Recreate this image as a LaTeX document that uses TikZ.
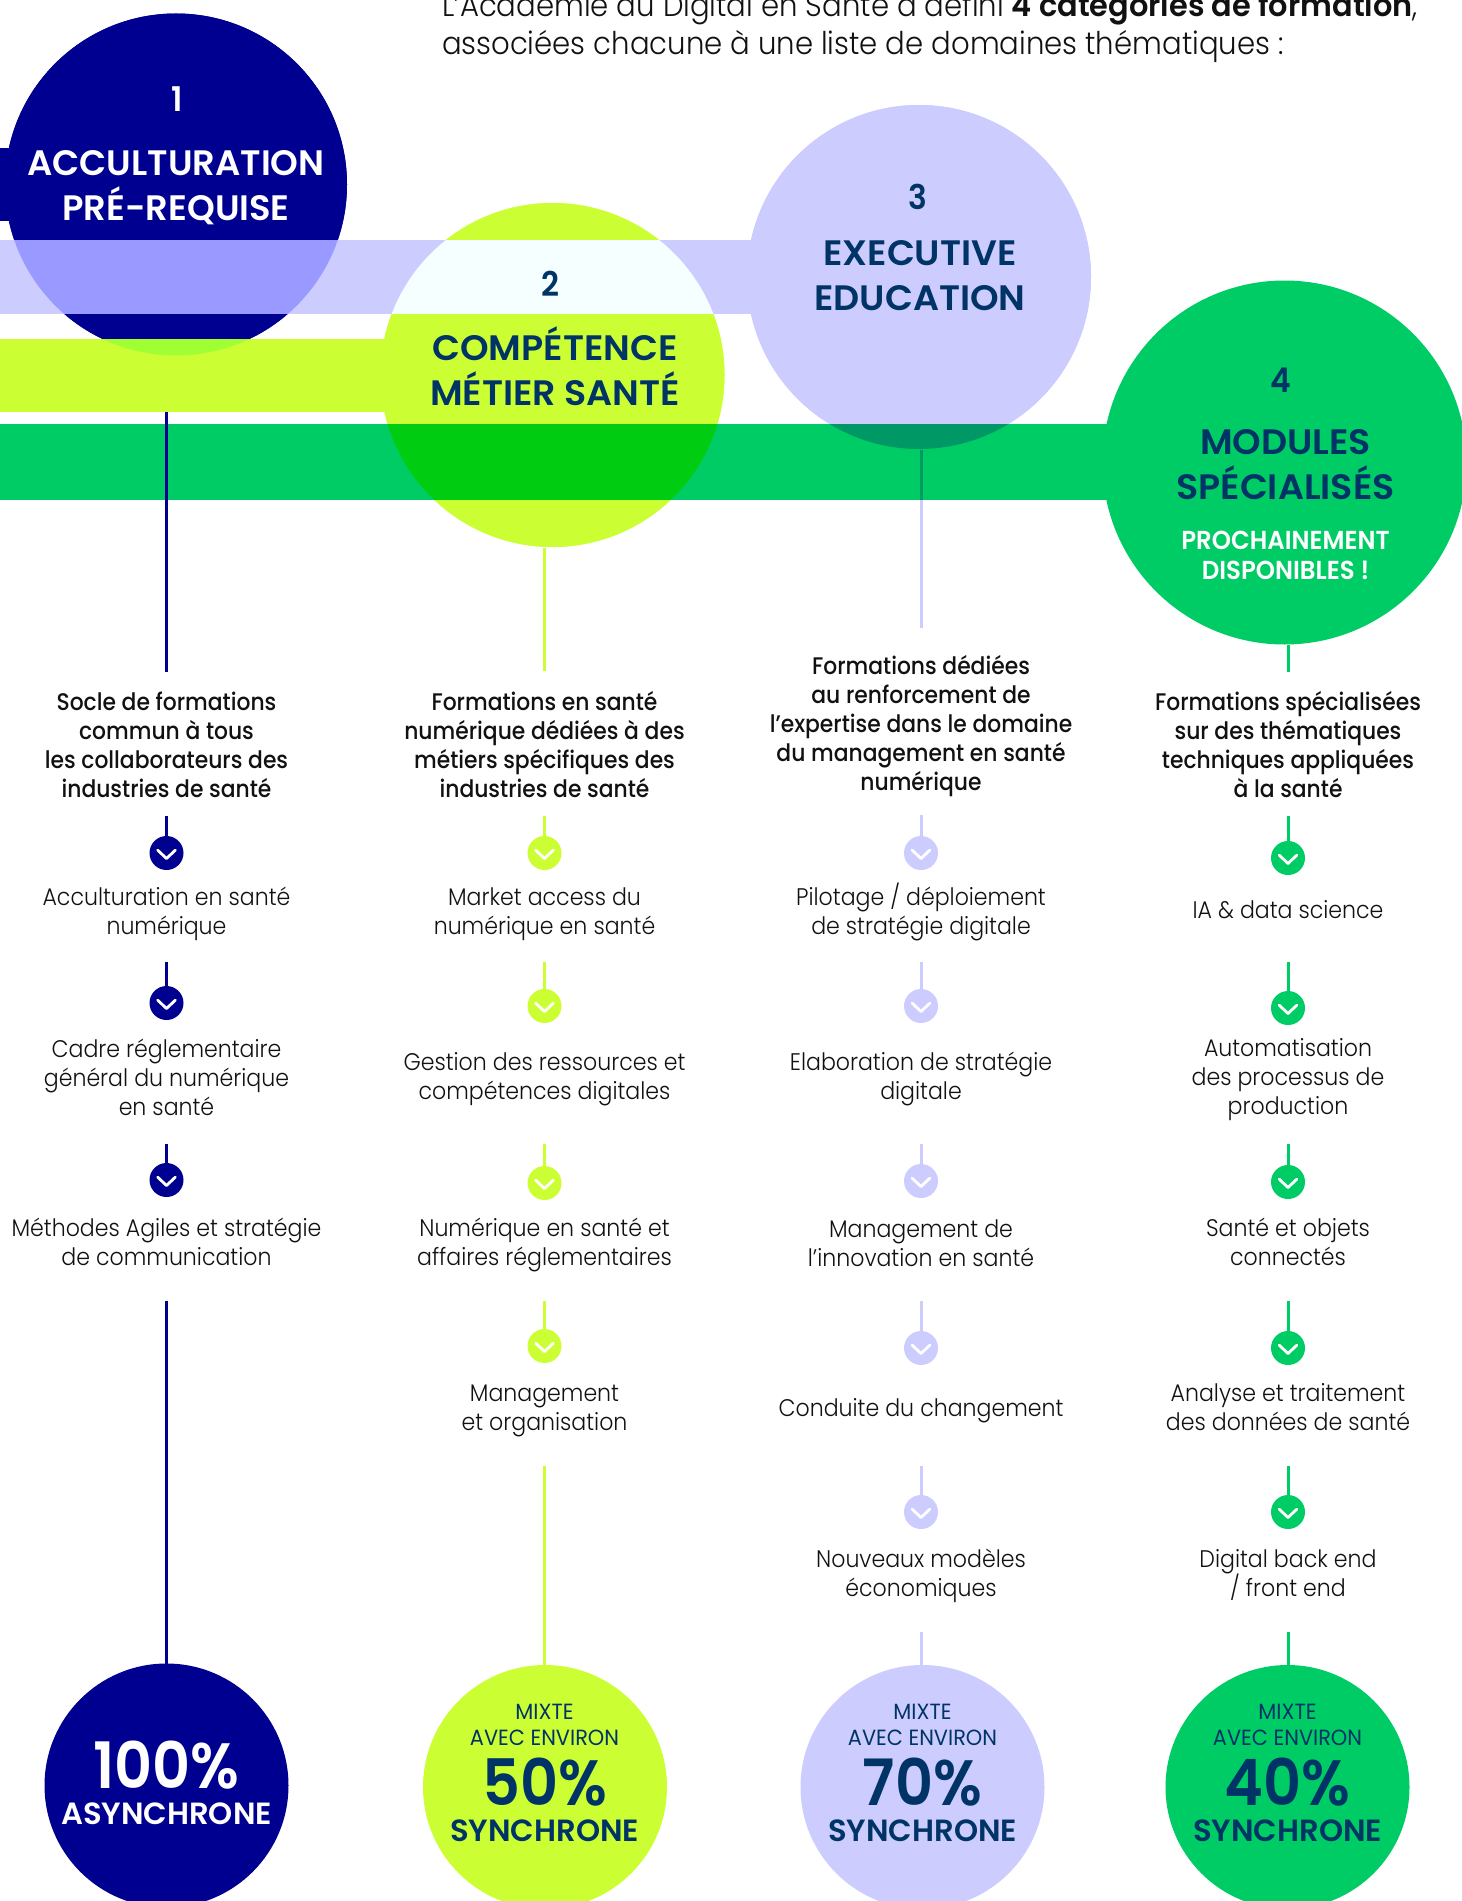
\documentclass[tikz,border=0pt]{standalone}
\usepackage{fontspec}
\setmainfont{Poppins}
\newfontfamily\fbody[FakeStretch=0.92]{Poppins Light}
\newfontfamily\fhead[FakeStretch=0.93]{Poppins Light}
\newfontfamily\fheadb[FakeStretch=0.97]{Poppins SemiBold}
\newfontfamily\fmed[FakeStretch=0.91]{Poppins Medium}
\newfontfamily\fsemi[FakeStretch=0.92]{Poppins SemiBold}
\newfontfamily\ftitle[FakeStretch=1.0]{Poppins SemiBold}
\newfontfamily\ftitlew[FakeStretch=1.03]{Poppins SemiBold}
\newfontfamily\fsoon[FakeStretch=0.94]{Poppins SemiBold}
\newfontfamily\freg[FakeStretch=0.95]{Poppins}
\definecolor{navy}{HTML}{000090}
\definecolor{lilac}{HTML}{CCCCFF}
\definecolor{lime}{HTML}{CCFF33}
\definecolor{grn}{HTML}{00CC66}
\definecolor{ink}{HTML}{003366}
\definecolor{blk}{HTML}{111111}
\definecolor{navylilac}{HTML}{9999FF}
\definecolor{navylime}{HTML}{A0FF33}
\definecolor{limelilac}{HTML}{F5FFFF}
\definecolor{limegrn}{HTML}{00CC11}
\definecolor{lilacgrn}{HTML}{009966}
\tikzset{
  txt/.style={align=center,inner sep=0pt,outer sep=0pt,text=blk},
  bodytxt/.style={txt,font={\fbody\fontsize{18}{21.75}\selectfont}},
  subtxt/.style={txt,font={\fmed\fontsize{18}{21.75}\selectfont}},
  headtxt/.style={txt,align=left,anchor=west,font={\fhead\fontsize{23.5}{23.5}\selectfont}},
  titletxt/.style={txt,font={\ftitlew\fontsize{26.5}{33.75}\selectfont}},
  titleone/.style={txt,font={\ftitle\fontsize{26.5}{33.75}\selectfont}},
  numtxt/.style={txt,font={\fsemi\fontsize{25.5}{30}\selectfont}},
  soontxt/.style={txt,text=white,font={\fsoon\fontsize{19.5}{22.5}\selectfont}},
  mixtxt/.style={txt,text=ink,font={\freg\fontsize{16.5}{19}\selectfont}},
  pcttxt/.style={txt,font={\fsemi\fontsize{48}{48}\selectfont}},
  synctxt/.style={txt,font={\ftitle\fontsize{23}{28}\selectfont}},
  disc/.style={circle,inner sep=0pt,outer sep=0pt,fill=#1},
  bigdisc/.style={disc=#1,minimum size=258pt},
  enddisc/.style={disc=#1,minimum size=183pt},
  bullet/.style={disc=#1,minimum size=25.5pt},
  conn/.style={draw=#1,line width=2.25pt},
  chev/.style={draw=white,line width=2.1pt,line cap=round,line join=round}
}
\newcommand{\chevron}[1]{\draw[chev] ([shift={(-8.8,-2.8)}]#1.center) -- ([shift={(0,5.5)}]#1.center) -- ([shift={(8.8,-2.8)}]#1.center);}
\newcommand{\stepdot}[5]{% name, x, ytop, ybullet, colour
  \coordinate (#1t) at (#2,#3);
  \node[bullet=#5] (#1) at (#2,#4) {};
  \draw[conn=#5] (#1t) -- (#1.north);
  \chevron{#1}}
\begin{document}
\begin{tikzpicture}[x=0.75pt,y=-0.75pt]
\useasboundingbox (0,0) rectangle (1462,1901);
\clip (0,0) rectangle (1462,1901);
% circles
\node[bigdisc=navy,minimum size=256.5pt] (c1) at (176,184.5) {};
\node[bigdisc=lime] (c2) at (552.5,375) {};
\node[bigdisc=lilac] (c3) at (919,277) {};
\node[bigdisc=grn,minimum size=273pt] (c4) at (1284.5,462.5) {};
% bands
\fill[navy] (0,148) rectangle (12,221);
\fill[lilac] (0,240) rectangle (752,314);
\fill[lime] (0,339) rectangle (386,412);
\fill[grn] (0,424) rectangle (1110,500);
% overlaps
\begin{scope}\clip (c1.center) circle [radius=128.25pt];
  \fill[navy] (0,0) rectangle (400,240);
  \fill[navy] (0,314) rectangle (400,339);
  \fill[navylilac] (0,240) rectangle (400,314);
  \fill[navylime] (0,339) rectangle (400,412);
\end{scope}
\begin{scope}\clip (c2.center) circle [radius=129pt];
  \fill[lime] (300,200) rectangle (800,240);
  \fill[limelilac] (300,240) rectangle (800,314);
  \fill[lime] (300,314) rectangle (800,424);
  \fill[limegrn] (300,424) rectangle (800,500);
  \fill[lime] (300,500) rectangle (800,560);
\end{scope}
\begin{scope}\clip (c3.center) circle [radius=129pt];
  \fill[lilac] (740,100) rectangle (1100,424);
  \fill[lilacgrn] (740,424) rectangle (1100,500);
\end{scope}
% end discs
\node[enddisc=navy] (e1) at (166.5,1785.5) {};
\node[enddisc=lime] (e2) at (545,1787) {};
\node[enddisc=lilac] (e3) at (922.5,1787) {};
\node[enddisc=grn] (e4) at (1287.5,1787) {};
% column lines
\coordinate (l1a) at (166.5,412); \coordinate (l1b) at (166.5,672);
\coordinate (l2a) at (544.5,548); \coordinate (l2b) at (544.5,671);
\coordinate (l3a) at (921,450); \coordinate (l3m) at (921,500); \coordinate (l3b) at (921,628);
\coordinate (l4a) at (1288,645); \coordinate (l4b) at (1288,672);
\draw[conn=navy] (l1a) -- (l1b);
\draw[conn=lime] (l2a) -- (l2b);
\draw[conn=lilacgrn] (l3a) -- (l3m);
\draw[conn=lilac] (l3m) -- (l3b);
\draw[conn=grn] (l4a) -- (l4b);
% column 1
\stepdot{a1}{166.5}{816}{853}{navy}
\stepdot{a2}{166.5}{962}{1003}{navy}
\stepdot{a3}{166.5}{1144}{1180}{navy}
\coordinate (a4t) at (166.5,1301);
\draw[conn=navy] (a4t) -- (e1.north);
% column 2
\stepdot{b1}{544.5}{816}{853}{lime}
\stepdot{b2}{544.5}{962}{1006}{lime}
\stepdot{b3}{544.5}{1144}{1183}{lime}
\stepdot{b4}{544.5}{1301}{1346}{lime}
\coordinate (b5t) at (544.5,1466);
\draw[conn=lime] (b5t) -- (b5t |- e2.north);
% column 3
\stepdot{d1}{921}{815}{853}{lilac}
\stepdot{d2}{921}{962}{1006}{lilac}
\stepdot{d3}{921}{1144}{1181}{lilac}
\stepdot{d4}{921}{1301}{1348}{lilac}
\stepdot{d5}{921}{1466}{1512}{lilac}
\coordinate (d6t) at (921,1632);
\draw[conn=lilac] (d6t) -- (d6t |- e3.north);
% column 4
\stepdot{f1}{1288}{816}{858}{grn}
\stepdot{f2}{1288}{962}{1008}{grn}
\stepdot{f3}{1288}{1144}{1182}{grn}
\stepdot{f4}{1288}{1301}{1348}{grn}
\stepdot{f5}{1288}{1466}{1512}{grn}
\coordinate (f6t) at (1288,1632);
\draw[conn=grn] (f6t) -- (f6t |- e4.north);
% header
\node[headtxt] (h1) at (442,8) {L’Académie du Digital en Santé a défini {\fheadb 4 catégories de formation},};
\node[headtxt] (h2) at (442,46) {associées chacune à une liste de domaines thématiques :};
% titles
\node[numtxt,text=white] (n1) at (177,99) {1};
\node[titleone,text=white] (t1) at (176,188) {ACCULTURATION\\PRÉ-REQUISE};
\node[numtxt,text=ink] (n2) at (550,284) {2};
\node[titletxt,text=ink] (t2) at (555,366) {COMPÉTENCE\\MÉTIER SANTÉ};
\node[numtxt,text=ink] (n3) at (918,197) {3};
\node[titletxt,text=ink] (t3) at (920,275.5) {EXECUTIVE\\EDUCATION};
\node[numtxt,text=ink] (n4) at (1281,380) {4};
\node[titletxt,text=ink] (t4) at (1285.5,465) {MODULES\\SPÉCIALISÉS};
\node[soontxt] (s4) at (1285.5,555) {PROCHAINEMENT\\DISPONIBLES !};
% subtitles
\node[subtxt] (ta) at (166.5,745) {Socle de formations\\commun à tous\\les collaborateurs des\\industries de santé};
\node[subtxt] (tb) at (544.5,745) {Formations en santé\\numérique dédiées à des\\métiers spécifiques des\\industries de santé};
\node[subtxt] (td) at (921,726.4) {Formations dédiées\\au renforcement de\\l’expertise dans le domaine\\du management en santé\\numérique};
\node[subtxt] (tf) at (1288,745) {Formations spécialisées\\sur des thématiques\\techniques appliquées\\à la santé};
% items col 1
\node[bodytxt] (ia1) at (166.5,914) {Acculturation en santé\\numérique};
\node[bodytxt] (ia2) at (166.5,1077) {Cadre réglementaire\\général du numérique\\en santé};
\node[bodytxt] (ia3) at (166.5,1242) {Méthodes Agiles et stratégie\\de communication};
% items col 2
\node[bodytxt] (ib1) at (544.5,914) {Market access du\\numérique en santé};
\node[bodytxt] (ib2) at (544.5,1079.4) {Gestion des ressources et\\compétences digitales};
\node[bodytxt] (ib3) at (544.5,1245.4) {Numérique en santé et\\affaires réglementaires};
\node[bodytxt] (ib4) at (544.5,1411) {Management\\et organisation};
% items col 3
\node[bodytxt] (id1) at (921,911.5) {Pilotage / déploiement\\de stratégie digitale};
\node[bodytxt] (id2) at (921,1079.4) {Elaboration de stratégie\\digitale};
\node[bodytxt] (id3) at (921,1243) {Management de\\l’innovation en santé};
\node[bodytxt] (id4) at (921,1410.4) {Conduite du changement};
\node[bodytxt] (id5) at (921,1576) {Nouveaux modèles\\économiques};
% items col 4
\node[bodytxt] (if1) at (1288,910) {IA \& data science};
\node[bodytxt] (if2) at (1288,1079.4) {Automatisation\\des processus de\\production};
\node[bodytxt] (if3) at (1288,1242) {Santé et objets\\connectés};
\node[bodytxt] (if4) at (1288,1407.5) {Analyse et traitement\\des données de santé};
\node[bodytxt] (if5) at (1288,1574.5) {Digital back end\\/ front end};
% end labels
\node[pcttxt,text=white] (p1) at (166.5,1765) {100\%};
\node[synctxt,text=white] (y1) at (166.5,1814) {ASYNCHRONE};
\foreach \nm/\x/\p in {2/544.5/50,3/922.5/70,4/1287.5/40}{
  \node[mixtxt] (m\nm) at (\x,1725) {MIXTE\\AVEC ENVIRON};
  \node[pcttxt,text=ink] (p\nm) at (\x,1782) {\p\%};
  \node[synctxt,text=ink] (y\nm) at (\x,1831) {SYNCHRONE};
}
\end{tikzpicture}
\end{document}
